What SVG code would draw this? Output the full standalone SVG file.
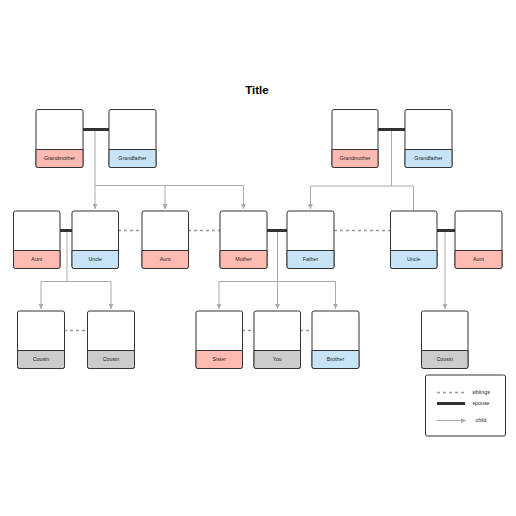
<svg xmlns="http://www.w3.org/2000/svg" width="516" height="516" viewBox="0 0 516 516">
<defs>
<marker id="arr" viewBox="0 0 6 6" refX="5" refY="3" markerWidth="6" markerHeight="6" orient="auto" markerUnits="userSpaceOnUse">
<path d="M0,0.5 L5,3 L0,5.5 z" fill="#aaaaaa"/>
</marker>
<style>
.box{fill:#ffffff;stroke:#333333;stroke-width:1}
.f{stroke:#333333;stroke-width:1}
.pink{fill:#ffbbb1}
.blue{fill:#c7e4f7}
.gray{fill:#cccccc}
.lbl{font-family:"Liberation Sans",Arial,sans-serif;font-size:5.3px;fill:#222;text-anchor:middle}
.child{fill:none;stroke:#aaaaaa;stroke-width:1}
.spouse{stroke:#333333;stroke-width:3}
.sib{stroke:#999999;stroke-width:1.5;stroke-dasharray:3,3}
</style>
</defs>
<rect width="516" height="516" fill="#ffffff"/>
<text x="257" y="94" font-family="'Liberation Sans',Arial,sans-serif" font-size="11.5" font-weight="bold" text-anchor="middle" fill="#000">Title</text>

<g id="connectors">
<line class="spouse" x1="83" y1="129.5" x2="109" y2="129.5"/>
<line class="spouse" x1="378" y1="129.5" x2="405" y2="129.5"/>
<line class="spouse" x1="60" y1="230.5" x2="72" y2="230.5"/>
<line class="spouse" x1="267" y1="230.5" x2="287" y2="230.5"/>
<line class="spouse" x1="437" y1="230.5" x2="455" y2="230.5"/>
<line class="sib" x1="118" y1="230.5" x2="142" y2="230.5"/>
<line class="sib" x1="188" y1="230.5" x2="220" y2="230.5"/>
<line class="sib" x1="334" y1="230.5" x2="390" y2="230.5"/>
<line class="sib" x1="64" y1="330.5" x2="87" y2="330.5"/>
<line class="sib" x1="242" y1="330.5" x2="254" y2="330.5"/>
<line class="sib" x1="300" y1="330.5" x2="312" y2="330.5"/>
<path class="child" d="M95,131 V185.5 H243.5 V209" marker-end="url(#arr)"/>
<path class="child" d="M95,185.5 V209" marker-end="url(#arr)"/>
<path class="child" d="M165,185.5 V209" marker-end="url(#arr)"/>
<path class="child" d="M391.5,131 V186 H310.5 V209" marker-end="url(#arr)"/>
<path class="child" d="M391.5,186 H413.5 V211"/>
<path class="child" d="M67,232 V281.5 H41 V309" marker-end="url(#arr)"/>
<path class="child" d="M67,281.5 H111 V309" marker-end="url(#arr)"/>
<path class="child" d="M277.5,232 V281.5 H219 V309" marker-end="url(#arr)"/>
<path class="child" d="M277.5,281.5 V309" marker-end="url(#arr)"/>
<path class="child" d="M277.5,281.5 H335.5 V309" marker-end="url(#arr)"/>
<path class="child" d="M445,232 V309" marker-end="url(#arr)"/>
</g>

<g id="gm1"><rect class="box" x="36" y="109.5" width="47" height="58" rx="2"/><path class="f pink" d="M36,149.5 H83 V165.5 a2,2 0 0 1 -2,2 H38 a2,2 0 0 1 -2,-2 z"/><text class="lbl" x="59.5" y="160.3">Grandmother</text></g>
<g id="gf1"><rect class="box" x="109" y="109.5" width="47" height="58" rx="2"/><path class="f blue" d="M109,149.5 H156 V165.5 a2,2 0 0 1 -2,2 H111 a2,2 0 0 1 -2,-2 z"/><text class="lbl" x="132.5" y="160.3">Grandfather</text></g>
<g id="gm2"><rect class="box" x="332" y="109.5" width="46" height="58" rx="2"/><path class="f pink" d="M332,149.5 H378 V165.5 a2,2 0 0 1 -2,2 H334 a2,2 0 0 1 -2,-2 z"/><text class="lbl" x="355" y="160.3">Grandmother</text></g>
<g id="gf2"><rect class="box" x="405" y="109.5" width="47" height="58" rx="2"/><path class="f blue" d="M405,149.5 H452 V165.5 a2,2 0 0 1 -2,2 H407 a2,2 0 0 1 -2,-2 z"/><text class="lbl" x="428.5" y="160.3">Grandfather</text></g>

<g id="aunt1"><rect class="box" x="13.5" y="211" width="46.5" height="57.5" rx="2"/><path class="f pink" d="M13.5,250.5 H60 V266.5 a2,2 0 0 1 -2,2 H15.5 a2,2 0 0 1 -2,-2 z"/><text class="lbl" x="36.8" y="261.3">Aunt</text></g>
<g id="uncle1"><rect class="box" x="72" y="211" width="46.5" height="57.5" rx="2"/><path class="f blue" d="M72,250.5 H118.5 V266.5 a2,2 0 0 1 -2,2 H74 a2,2 0 0 1 -2,-2 z"/><text class="lbl" x="95.2" y="261.3">Uncle</text></g>
<g id="aunt2"><rect class="box" x="142" y="211" width="46.5" height="57.5" rx="2"/><path class="f pink" d="M142,250.5 H188.5 V266.5 a2,2 0 0 1 -2,2 H144 a2,2 0 0 1 -2,-2 z"/><text class="lbl" x="165.2" y="261.3">Aunt</text></g>
<g id="mother"><rect class="box" x="220" y="211" width="47" height="57.5" rx="2"/><path class="f pink" d="M220,250.5 H267 V266.5 a2,2 0 0 1 -2,2 H222 a2,2 0 0 1 -2,-2 z"/><text class="lbl" x="243.5" y="261.3">Mother</text></g>
<g id="father"><rect class="box" x="287" y="211" width="47" height="57.5" rx="2"/><path class="f blue" d="M287,250.5 H334 V266.5 a2,2 0 0 1 -2,2 H289 a2,2 0 0 1 -2,-2 z"/><text class="lbl" x="310.5" y="261.3">Father</text></g>
<g id="uncle2"><rect class="box" x="390.5" y="211" width="46.5" height="57.5" rx="2"/><path class="f blue" d="M390.5,250.5 H437 V266.5 a2,2 0 0 1 -2,2 H392.5 a2,2 0 0 1 -2,-2 z"/><text class="lbl" x="413.8" y="261.3">Uncle</text></g>
<g id="aunt3"><rect class="box" x="455" y="211" width="47" height="57.5" rx="2"/><path class="f pink" d="M455,250.5 H502 V266.5 a2,2 0 0 1 -2,2 H457 a2,2 0 0 1 -2,-2 z"/><text class="lbl" x="478.5" y="261.3">Aunt</text></g>

<g id="cousin1"><rect class="box" x="17.5" y="311" width="47" height="57.5" rx="2"/><path class="f gray" d="M17.5,350.5 H64.5 V366.5 a2,2 0 0 1 -2,2 H19.5 a2,2 0 0 1 -2,-2 z"/><text class="lbl" x="41" y="361.3">Cousin</text></g>
<g id="cousin2"><rect class="box" x="87.5" y="311" width="47" height="57.5" rx="2"/><path class="f gray" d="M87.5,350.5 H134.5 V366.5 a2,2 0 0 1 -2,2 H89.5 a2,2 0 0 1 -2,-2 z"/><text class="lbl" x="111" y="361.3">Cousin</text></g>
<g id="sister"><rect class="box" x="196" y="311" width="46.5" height="57.5" rx="2"/><path class="f pink" d="M196,350.5 H242.5 V366.5 a2,2 0 0 1 -2,2 H198 a2,2 0 0 1 -2,-2 z"/><text class="lbl" x="219.2" y="361.3">Sister</text></g>
<g id="you"><rect class="box" x="254" y="311" width="46.5" height="57.5" rx="2"/><path class="f gray" d="M254,350.5 H300.5 V366.5 a2,2 0 0 1 -2,2 H256 a2,2 0 0 1 -2,-2 z"/><text class="lbl" x="277.2" y="361.3">You</text></g>
<g id="brother"><rect class="box" x="312" y="311" width="47" height="57.5" rx="2"/><path class="f blue" d="M312,350.5 H359 V366.5 a2,2 0 0 1 -2,2 H314 a2,2 0 0 1 -2,-2 z"/><text class="lbl" x="335.5" y="361.3">Brother</text></g>
<g id="cousin3"><rect class="box" x="421.5" y="311" width="46.5" height="57.5" rx="2"/><path class="f gray" d="M421.5,350.5 H468 V366.5 a2,2 0 0 1 -2,2 H423.5 a2,2 0 0 1 -2,-2 z"/><text class="lbl" x="444.8" y="361.3">Cousin</text></g>

<g id="legend">
<rect x="425.5" y="375" width="80" height="61" rx="2" fill="#ffffff" stroke="#333333" stroke-width="1"/>
<line class="sib" x1="437" y1="392.5" x2="465" y2="392.5"/>
<line class="spouse" x1="437" y1="403.5" x2="465" y2="403.5"/>
<line class="child" x1="437" y1="420.5" x2="466" y2="420.5" marker-end="url(#arr)"/>
<text class="lbl" x="481" y="394.3">siblings</text>
<text class="lbl" x="481" y="405.3">spouse</text>
<text class="lbl" x="481" y="422.3">child</text>
</g>
</svg>
